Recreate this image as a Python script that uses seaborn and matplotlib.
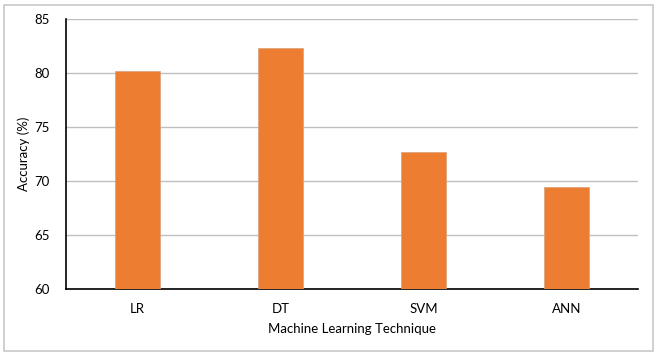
import matplotlib
matplotlib.use("Agg")
import matplotlib.pyplot as plt
import seaborn as sns
import pandas as pd
from matplotlib.patches import Rectangle

techniques = ["LR", "DT", "SVM", "ANN"]
accuracy = [80.2, 82.3, 72.7, 69.4]
yticks = [60, 65, 70, 75, 80, 85]

sns.set_theme(style="white")
plt.rcParams['font.family'] = ['Lato', 'DejaVu Sans']

df = pd.DataFrame({"Technique": techniques, "Accuracy": accuracy})

W, H = 659, 357
fig = plt.figure(figsize=(W / 100, H / 100), dpi=100)
ax = fig.add_axes([66 / W, 1 - 289 / H, (638 - 66) / W, (289 - 19) / H])

sns.barplot(data=df, x="Technique", y="Accuracy", color="#ED7D31", width=0.315,
            saturation=1, ax=ax, zorder=3, edgecolor="#d9a07c", linewidth=0.5)

ax.set_ylim(60, 85)
ax.set_yticks(yticks)
ax.set_xlim(-0.5, 3.5)
ax.yaxis.grid(True, color="#bfbfbf", linewidth=1.0, zorder=0)
ax.set_axisbelow(True)
for s in ["top", "right"]:
    ax.spines[s].set_visible(False)
ax.spines["left"].set_color("black")
ax.spines["left"].set_linewidth(1.2)
ax.spines["bottom"].set_color("black")
ax.spines["bottom"].set_linewidth(1.2)
ax.tick_params(axis="both", length=0, labelsize=9.5, colors="black")
ax.tick_params(axis="y", pad=12)
ax.tick_params(axis="x", pad=10)
ax.set_xlabel("Machine Learning Technique", fontsize=9.5, color="black", labelpad=6)
ax.set_ylabel("Accuracy (%)", fontsize=9.5, color="black", labelpad=3)

fig.patches.append(Rectangle((4 / W, 1 - 351 / H), (653 - 4) / W, (351 - 5) / H,
                             transform=fig.transFigure, fill=False,
                             edgecolor="#c8c8c8", linewidth=1.2))

fig.savefig("out.png", dpi=100)
